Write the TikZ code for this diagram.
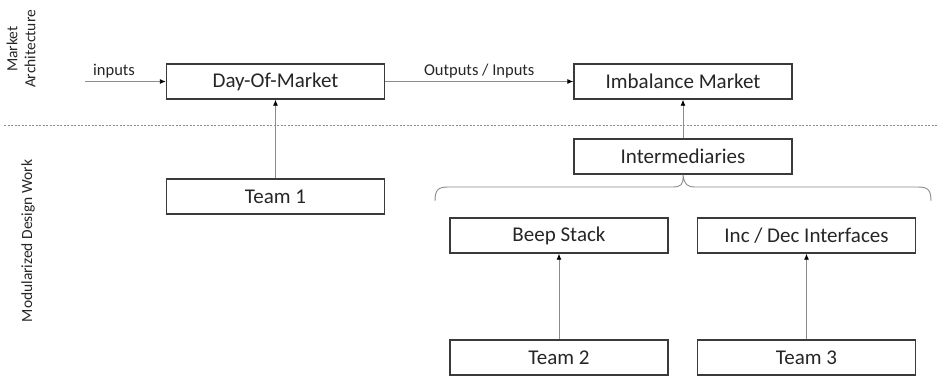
\documentclass[tikz,border=0pt]{standalone}
\usepackage{fontspec}
\setmainfont{Carlito}
\usepackage{xcolor}
\usepackage{tikz}
\usetikzlibrary{arrows.meta}

\definecolor{boxline}{HTML}{3A3A3A}
\definecolor{arrowline}{HTML}{8C8C8C}
\definecolor{txt}{HTML}{262626}

\tikzset{
    blockbox/.style = {draw = boxline, line width = 1.4pt, fill = white,
        minimum width = 218pt, minimum height = 35pt, inner sep = 0pt,
        text = txt, font = \fontsize{21}{24}\selectfont},
    feed/.style = {draw = arrowline, line width = 0.9pt,
        -{Latex[length = 6pt, width = 5pt, color = black]}},
    smalltext/.style = {text = txt, font = \fontsize{16.5}{19}\selectfont},
    sidetext/.style = {text = txt, rotate = 90, align = center,
        font = \fontsize{15.5}{18}\selectfont}
}

\begin{document}
\begin{tikzpicture}[x = 1pt, y = -1pt]
        \useasboundingbox (0, 0) rectangle (938, 376);

        % side headings
        \node[sidetext] (archlabel) at (21, 49) {Market\\Architecture};
        \node[sidetext] (worklabel) at (28, 241) {Modularized Design Work};
        \draw[arrowline, dashed, dash pattern = on 2pt off 1.5pt, line width = 0.7pt]
            (4, 125) -- (938, 125);

        % market architecture
        \node[blockbox] (dom) at (275.5, 81.5) {Day-Of-Market};
        \node[blockbox] (imb) at (683, 81.5) {Imbalance Market};
        \coordinate (src) at (85, 81.5);

        % design work
        \node[blockbox] (inter) at (683, 156.5) {Intermediaries};
        \node[blockbox] (team1) at (275.5, 196.5) {Team 1};
        \node[blockbox] (beep) at (559, 235.5) {Beep Stack};
        \node[blockbox] (incdec) at (806.5, 235.5) {Inc / Dec Interfaces};
        \node[blockbox] (team2) at (559, 357.5) {Team 2};
        \node[blockbox] (team3) at (806.5, 357.5) {Team 3};

        \draw[feed] (src) -- (dom.west)
            node[smalltext, pos = 0.36, above = 0pt] (inlabel) {inputs};
        \draw[feed] (dom.east) -- (imb.west)
            node[smalltext, midway, above = 0pt] (iolabel) {Outputs / Inputs};
        \draw[feed] (team1.north) -- (dom.south);
        \draw[feed] (inter.north) -- (imb.south);
        \draw[feed] (team2.north) -- (beep.south);
        \draw[feed] (team3.north) -- (incdec.south);

        % brace under intermediaries
        \draw[arrowline, line width = 0.9pt]
            (435, 201) .. controls (435, 190) and (438, 187) .. (448, 187)
            -- (672, 187) .. controls (681, 187) and (683.5, 185) .. (inter.south)
            .. controls (684.5, 185) and (687, 187) .. (696, 187)
            -- (918, 187) .. controls (928, 187) and (931, 190) .. (931, 201);
        \end{tikzpicture}
\end{document}
